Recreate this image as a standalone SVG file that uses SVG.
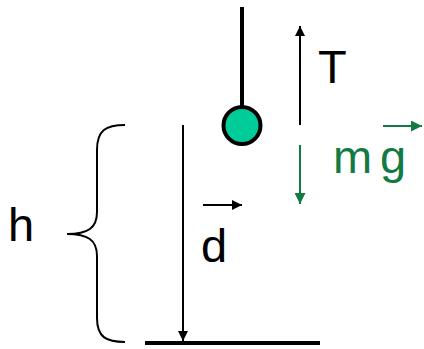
<svg xmlns="http://www.w3.org/2000/svg" width="424" height="349" viewBox="0 0 424 349">
<style>
text{font-family:"Liberation Sans",Arial,sans-serif;font-size:47px}
.blk{stroke:#000;fill:none}
.grn{stroke:#137a44;fill:none}
</style>
<defs>
<marker id="ab" viewBox="0 0 10 10" refX="10" refY="5" markerWidth="10" markerHeight="10" markerUnits="userSpaceOnUse" orient="auto"><path d="M0,0L10,5L0,10z" fill="#000"/></marker>
<marker id="ag" viewBox="0 0 10 10" refX="10" refY="5" markerWidth="11" markerHeight="11" markerUnits="userSpaceOnUse" orient="auto"><path d="M0,0L10,5L0,10z" fill="#137a44"/></marker>
</defs>
<g id="pendulum">
<line x1="242" y1="7" x2="242" y2="106" class="blk" stroke-width="4"/>
<circle cx="242" cy="125.5" r="18.5" fill="#00cc99" stroke="#000" stroke-width="4"/>
</g>
<g id="ground">
<line x1="145" y1="343" x2="320" y2="343" class="blk" stroke-width="4"/>
</g>
<g id="brace">
<path d="M125,125 C106,125 97,130 97,150 L97,212 C97,228 88,234 67,234 C88,234 97,240 97,256 L97,318 C97,337 106,342 125,342" class="blk" stroke-width="2"/>
</g>
<g id="labels">
<text x="8" y="241">h</text>
<text x="201" y="262">d</text>
<text x="318" y="83">T</text>
<text x="333" y="173" fill="#137a44">m</text>
<text x="380" y="173" fill="#137a44">g</text>
</g>
<g id="connectors">
<line x1="183" y1="125" x2="183" y2="341" class="blk" stroke-width="2" marker-end="url(#ab)"/>
<line x1="300" y1="125" x2="300" y2="26" class="blk" stroke-width="2" marker-end="url(#ab)"/>
<line x1="300" y1="145" x2="300" y2="204" class="grn" stroke-width="2" marker-end="url(#ag)"/>
<line x1="203" y1="205" x2="242" y2="205" class="blk" stroke-width="2" marker-end="url(#ab)"/>
<line x1="383" y1="126" x2="422" y2="126" class="grn" stroke-width="2" marker-end="url(#ag)"/>
</g>
</svg>
